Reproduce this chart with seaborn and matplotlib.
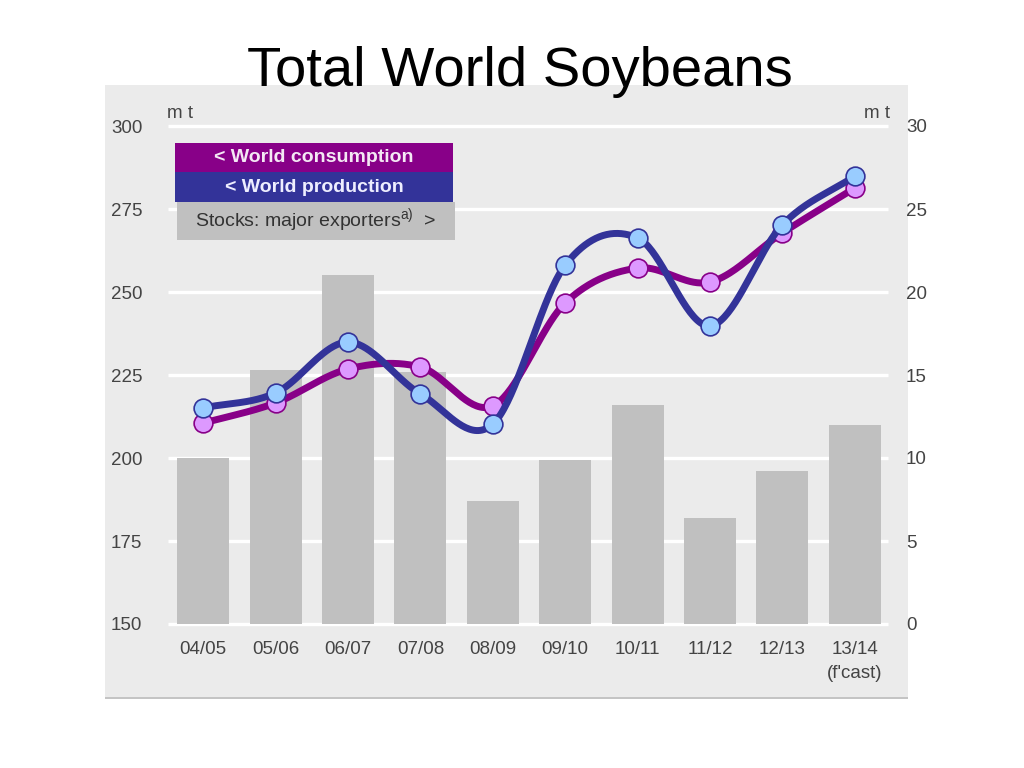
import numpy as np
import pandas as pd
import matplotlib
matplotlib.use("Agg")
import matplotlib.pyplot as plt
from matplotlib.patches import Rectangle
import seaborn as sns

seasons = ["04/05", "05/06", "06/07", "07/08", "08/09", "09/10", "10/11", "11/12", "12/13", "13/14"]
tick_labels = ["04/05", "05/06", "06/07", "07/08", "08/09", "09/10", "10/11", "11/12", "12/13", "13/14\n(f'cast)"]
stocks = [10.0, 15.3, 21.0, 15.2, 7.4, 9.9, 13.2, 6.4, 9.2, 12.0]
production = [215.1, 219.6, 234.9, 219.3, 210.2, 258.1, 266.3, 239.8, 270.2, 284.9]
consumption = [210.5, 216.6, 226.8, 227.4, 215.7, 246.7, 257.2, 253.0, 267.8, 281.3]

sns.set_theme(style="white")
plt.rcParams['font.family'] = ['Liberation Sans', 'DejaVu Sans']

W, H = 1024, 768
fig = plt.figure(figsize=(W / 100, H / 100), dpi=100)
fig.patch.set_facecolor("white")

def fx(px):
    return px / W

def fy(py):
    return 1 - py / H

# panel background
fig.patches.append(Rectangle((fx(105), fy(698)), fx(908) - fx(105), fy(85) - fy(698),
                             transform=fig.transFigure, facecolor="#ebebeb",
                             edgecolor="none", zorder=-5))
fig.patches.append(Rectangle((fx(105), fy(699)), fx(908) - fx(105), 2 / H,
                             transform=fig.transFigure, facecolor="#c4c4c4",
                             edgecolor="none", zorder=-5))

# axes: y 150 at px 624, 300 at px 126 -> 3.32 px/unit; extend to 302
ppu = (624 - 126) / 150
top_px = 624 - 152 * ppu
axb = fig.add_axes([fx(170), fy(624), fx(888) - fx(170), fy(top_px) - fy(624)])
axb.set_facecolor("none")

df = pd.DataFrame({"season": seasons, "stocks": stocks})
sns.barplot(data=df, x="season", y="stocks", ax=axb, color="#c0c0c0",
            saturation=1, width=0.72, linewidth=0, edgecolor="none", zorder=2)
axb.set_ylim(0, 30.4)
axb.set_xlim(-0.46, 9.46)

axl = axb.twinx()
axl.set_ylim(150, 302)

# gridlines (white) drawn on bar axes below bars
for v in np.arange(150, 301, 25):
    yy = (v - 150) / 152
    axb.plot([-0.003, 1.0], [yy, yy], transform=axb.transAxes, color="white",
             lw=2.4, zorder=1, clip_on=False, solid_capstyle="butt")

# smooth curves (Catmull-Rom through the data points)
def catmull(xs, ys, n=40):
    xs = np.asarray(xs, float)
    ys = np.asarray(ys, float)
    px = np.concatenate([[2 * xs[0] - xs[1]], xs, [2 * xs[-1] - xs[-2]]])
    py = np.concatenate([[2 * ys[0] - ys[1]], ys, [2 * ys[-1] - ys[-2]]])
    ox, oy = [], []
    for i in range(1, len(px) - 2):
        t = np.linspace(0, 1, n, endpoint=False)
        for arr, out in ((px, ox), (py, oy)):
            p0, p1, p2, p3 = arr[i - 1], arr[i], arr[i + 1], arr[i + 2]
            out.extend(0.5 * ((2 * p1) + (-p0 + p2) * t + (2 * p0 - 5 * p1 + 4 * p2 - p3) * t ** 2
                              + (-p0 + 3 * p1 - 3 * p2 + p3) * t ** 3))
    ox.append(xs[-1])
    oy.append(ys[-1])
    return np.array(ox), np.array(oy)

xpos = np.arange(len(seasons))
cx, cy = catmull(xpos, consumption)
pxs, pys = catmull(xpos, production)

sns.lineplot(x=cx, y=cy, ax=axl, color="#880088", lw=5, sort=False, zorder=3)
axl.plot(xpos, consumption, "o", ms=13.5, mfc="#dd99ff", mec="#880088", mew=1.2, zorder=4)
sns.lineplot(x=pxs, y=pys, ax=axl, color="#333399", lw=5, sort=False, zorder=5)
axl.plot(xpos, production, "o", ms=13.5, mfc="#99ccff", mec="#333399", mew=1.2, zorder=6)

# ticks
label_color = "#444444"
axb.yaxis.tick_right()
axb.set_yticks([0, 5, 10, 15, 20, 25, 30])
axb.tick_params(axis="y", length=0, pad=13, labelsize=13.5, labelcolor=label_color)
axl.yaxis.tick_left()
axl.set_yticks([150, 175, 200, 225, 250, 275, 300])
axl.tick_params(axis="y", length=0, pad=20, labelsize=13.5, labelcolor=label_color)
axb.set_xticks(xpos)
axb.set_xticklabels(tick_labels)
axb.tick_params(axis="x", length=0, pad=12, labelsize=13.5, labelcolor=label_color)
for lab in axb.get_xticklabels():
    lab.set_linespacing(1.55)
    lab.set_verticalalignment("top")
axb.set_xlabel("")
axb.set_ylabel("")
axl.set_ylabel("")
for a in (axb, axl):
    for s in a.spines.values():
        s.set_visible(False)
axl.patch.set_visible(False)

# unit labels
fig.text(fx(167), fy(113), "m t", fontsize=13.5, color=label_color, ha="left", va="center")
fig.text(fx(890), fy(113), "m t", fontsize=13.5, color=label_color, ha="right", va="center")

# legend boxes
def box(x0, y0, x1, y1, fc, text, tc, **kw):
    fig.patches.append(Rectangle((fx(x0), fy(y1)), fx(x1) - fx(x0), fy(y0) - fy(y1),
                                 transform=fig.transFigure, facecolor=fc,
                                 edgecolor="none", zorder=10))
    fig.text(fx((x0 + x1) / 2), fy((y0 + y1) / 2), text, color=tc, ha="center",
             va="center", zorder=11, **kw)

box(175, 143, 453, 172, "#880088", "< World consumption", "#f4e8f4", fontsize=14, fontweight="bold")
box(175, 172, 453, 202, "#333399", "< World production", "#eeeeff", fontsize=14, fontweight="bold")
box(177, 202, 455, 240, "#c0c0c0", r"Stocks: major exporters$^{\mathregular{a)}}$  >", "#333333", fontsize=14)

# title
fig.text(fx(520), fy(72), "Total World Soybeans", fontsize=40.5, color="black",
         ha="center", va="center", zorder=12)

fig.savefig("out.png", dpi=100, facecolor="white")
